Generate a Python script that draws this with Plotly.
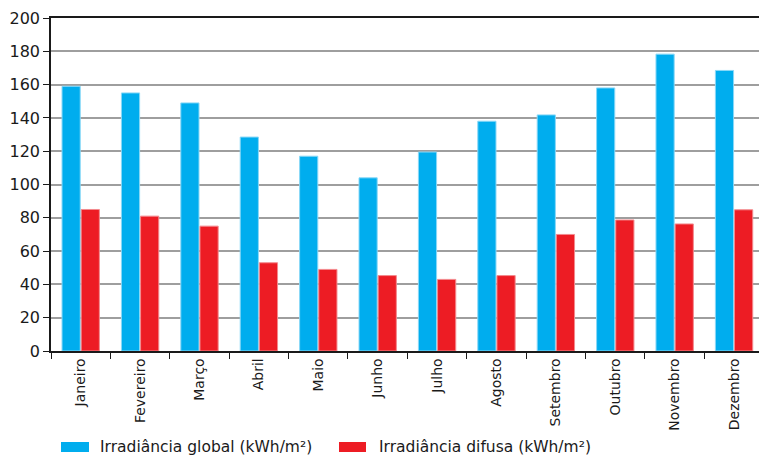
import plotly.graph_objects as go

# Monthly solar irradiation (kWh/m²)
months = ["Janeiro", "Fevereiro", "Março", "Abril", "Maio", "Junho",
          "Julho", "Agosto", "Setembro", "Outubro", "Novembro", "Dezembro"]
global_irr = [159, 155, 149, 128.5, 117, 104, 119.5, 138, 141.8, 158, 178.3, 168.5]
diffuse_irr = [85, 81, 75, 53, 49, 45.3, 43, 45.3, 70, 78.7, 76.3, 84.8]
y_ticks = [0, 20, 40, 60, 80, 100, 120, 140, 160, 180, 200]

names = ["Irradiância global (kWh/m²)", "Irradiância difusa (kWh/m²)"]
BLUE = "#00ADEE"
RED = "#ED1C24"
FONT = "DejaVu Sans"

fig = go.Figure()
fig.add_trace(go.Bar(x=months, y=global_irr, name=names[0],
                     marker=dict(color=BLUE, line=dict(color="#8AD8F7", width=1))))
fig.add_trace(go.Bar(x=months, y=diffuse_irr, name=names[1],
                     marker=dict(color=RED, line=dict(color="#F38A8E", width=1))))

W, H = 759, 458
ml, mr, mt, mb = 51, 0, 18, 107
pw, ph = W - ml - mr, H - mt - mb


def px(x):
    return (x - ml) / pw


def py(y):
    return (H - mb - y) / ph


# Legend drawn below the axis: colour swatch followed by its label
legend_items = [(61, 89, 98, BLUE, names[0]), (339, 366, 377, RED, names[1])]
for x0, x1, tx, col, label in legend_items:
    fig.add_shape(type="rect", xref="paper", yref="paper",
                  x0=px(x0), x1=px(x1), y0=py(452), y1=py(442),
                  fillcolor=col, line=dict(width=0), layer="above")
    fig.add_annotation(xref="paper", yref="paper", x=px(tx), y=py(447),
                       xanchor="left", yanchor="middle", showarrow=False,
                       text=label, font=dict(family=FONT, size=15.5, color="#1a1a1a"))

fig.update_layout(
    width=W, height=H,
    margin=dict(l=ml, r=mr, t=mt, b=mb, pad=0),
    paper_bgcolor="white", plot_bgcolor="white",
    barmode="group", bargap=0.355, bargroupgap=0.05,
    showlegend=False,
    font=dict(family=FONT, size=15, color="#1a1a1a"),
)
fig.update_xaxes(
    type="category", range=[-0.5, 11.42],
    showline=True, linecolor="#1a1a1a", linewidth=1.5, mirror=True,
    ticks="outside", tickson="boundaries", ticklen=6, tickcolor="#1a1a1a",
    tickangle=-90, tickfont=dict(family=FONT, size=14, color="#1a1a1a"),
    showgrid=False,
)
fig.update_yaxes(
    range=[0, 200], tickvals=y_ticks,
    showline=True, linecolor="#1a1a1a", linewidth=1.5,
    ticks="outside", ticklen=6, tickcolor="#1a1a1a",
    tickfont=dict(family=FONT, size=16, color="#1a1a1a"),
    showgrid=True, gridcolor="#9E9E9E", gridwidth=1.5,
    zeroline=False,
)

fig.write_html("out.html")
